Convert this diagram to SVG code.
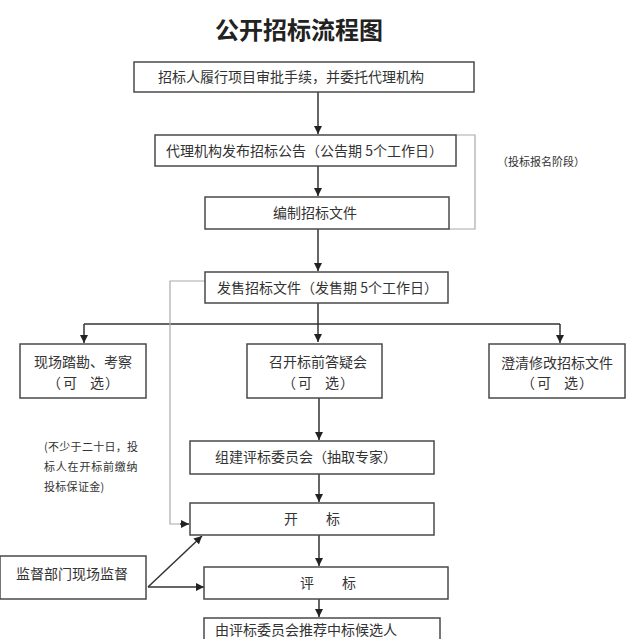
<svg xmlns="http://www.w3.org/2000/svg" width="640" height="639" viewBox="0 0 640 639">
<style>
.box{fill:#fff;stroke:#4a4a4a;stroke-width:1.5}
.t{font-family:"Noto Sans CJK SC","Noto Sans",sans-serif;font-size:14px;fill:#333}
.s{font-family:"Noto Sans CJK SC","Noto Sans",sans-serif;font-size:11px;fill:#333}
.c{text-anchor:middle}
.ln{fill:none;stroke:#333;stroke-width:1.5}
.gl{fill:none;stroke:#aaa;stroke-width:1.2}
</style>
<defs>
<marker id="ah" viewBox="0 0 10 10" refX="10" refY="5" markerWidth="8" markerHeight="8" markerUnits="userSpaceOnUse" orient="auto">
<path d="M0,0 L10,5 L0,10 z" fill="#222"/>
</marker>
</defs>
<rect width="640" height="639" fill="#fff"/>
<text x="299" y="39" class="c" font-family="'Noto Sans CJK SC',sans-serif" font-size="24" font-weight="bold" fill="#222">公开招标流程图</text>

<g id="connectors">
<path class="ln" d="M318,92 V134" marker-end="url(#ah)"/>
<path class="ln" d="M318,166 V196" marker-end="url(#ah)"/>
<path class="ln" d="M318,229 V271" marker-end="url(#ah)"/>
<path class="ln" d="M318,303 V342" marker-end="url(#ah)"/>
<path class="ln" d="M84,324 H560"/>
<path class="ln" d="M84,324 V343" marker-end="url(#ah)"/>
<path class="ln" d="M560,324 V343" marker-end="url(#ah)"/>
<path class="ln" d="M319,398 V440" marker-end="url(#ah)"/>
<path class="ln" d="M319,474 V502" marker-end="url(#ah)"/>
<path class="ln" d="M319,535 V566" marker-end="url(#ah)"/>
<path class="ln" d="M319,599 V617" marker-end="url(#ah)"/>
<path class="gl" d="M205,281 H170 V524 H182"/>
<path class="ln" d="M180,524 H189" marker-end="url(#ah)"/>
<path class="gl" d="M456,135 H475 V229 H449"/>
<path class="ln" d="M148,587 L202,536" marker-end="url(#ah)"/>
<path class="ln" d="M148,587 H204" marker-end="url(#ah)"/>
</g>

<g id="n1"><rect class="box" x="134" y="62" width="340" height="30"/><text class="t" x="158" y="82">招标人履行项目审批手续，并委托代理机构</text></g>
<g id="n2"><rect class="box" x="155" y="135" width="301" height="31"/><text class="t" x="166" y="156">代理机构发布招标公告（公告期 5个工作日）</text></g>
<g id="lbl1"><text class="s" x="497" y="166">（投标报名阶段）</text></g>
<g id="n3"><rect class="box" x="205" y="197" width="244" height="32"/><text class="t c" x="315" y="218" font-size="15">编制招标文件</text></g>
<g id="n4"><rect class="box" x="205" y="272" width="243" height="31"/><text class="t" x="217" y="293">发售招标文件（发售期 5个工作日）</text></g>
<g id="n5"><rect class="box" x="20" y="344" width="126" height="54"/><text class="t c" x="83" y="367">现场踏勘、考察</text><text class="t c" x="54 70 97 112" y="388">（可选）</text></g>
<g id="n6"><rect class="box" x="247" y="344" width="135" height="54"/><text class="t c" x="318" y="367">召开标前答疑会</text><text class="t c" x="289 305 332 347" y="388">（可选）</text></g>
<g id="n7"><rect class="box" x="489" y="344" width="136" height="54"/><text class="t c" x="557" y="368">澄清修改招标文件</text><text class="t c" x="528 544 571 586" y="388">（可选）</text></g>
<g id="note"><text class="s" x="44" y="451" letter-spacing="0.3">(不少于二十日，投</text><text class="s" x="44" y="471" letter-spacing="0.8">标人在开标前缴纳</text><text class="s" x="44" y="491" letter-spacing="0.3">投标保证金)</text></g>
<g id="n8"><rect class="box" x="190" y="441" width="244" height="33"/><text class="t" x="215" y="462">组建评标委员会（抽取专家）</text></g>
<g id="n9"><rect class="box" x="190" y="503" width="244" height="32"/><text class="t" x="284" y="524">开　　标</text></g>
<g id="n10"><rect class="box" x="204" y="567" width="244" height="32"/><text class="t" x="300" y="588">评　　标</text></g>
<g id="n11"><rect class="box" x="204" y="618" width="236" height="34"/><text class="t" x="215" y="635">由评标委员会推荐中标候选人</text></g>
<g id="n12"><rect class="box" x="0" y="556" width="146" height="43"/><text class="t" x="16" y="579">监督部门现场监督</text></g>
</svg>
